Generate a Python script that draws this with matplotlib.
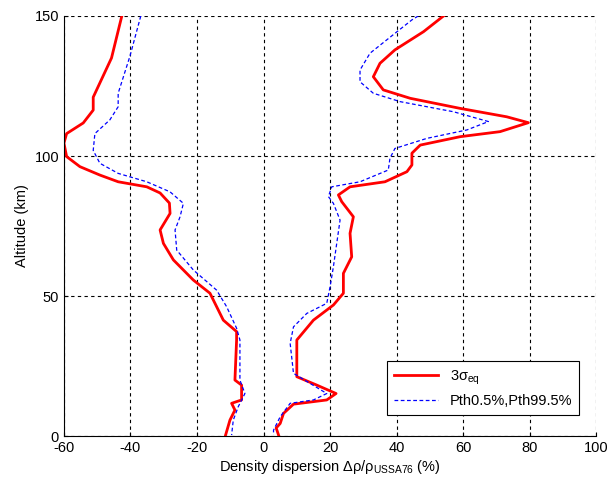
import numpy as np
import matplotlib
matplotlib.use("Agg")
from matplotlib import pyplot as plt

plt.rcParams['font.family'] = ['Liberation Sans', 'DejaVu Sans']
plt.rcParams['mathtext.fontset'] = 'custom'
plt.rcParams['mathtext.rm'] = 'Liberation Sans'
plt.rcParams['mathtext.it'] = 'Liberation Sans'
plt.rcParams['axes.unicode_minus'] = False

# --- data (dispersion %, altitude km) ---
red_left_alt = [150, 135, 121, 116.4, 111.8, 108, 104.6, 99.8, 96.2, 93.2, 90.8, 89, 86.8, 83.2,
                79.5, 73.6, 68.8, 62.9, 55.7, 51, 46.2, 41.4, 37.3, 34.3, 20, 18.2, 12.9, 11.7,
                9.3, 5.7, 0.4]
red_left_x = [-42.6, -45.7, -51.2, -51.2, -54.2, -59.2, -60, -59.2, -55.2, -49.2, -43.7, -35.1,
              -31.1, -28.3, -28.1, -31.1, -30.1, -27.1, -21.1, -16.1, -14.1, -12.1, -8.1, -8.1,
              -8.6, -6.6, -6.6, -9.6, -8.6, -10.1, -11.4]

blue_left_alt = [150, 135.5, 122.4, 117.6, 112.9, 108, 102, 97.4, 93.8, 90.8, 87.2, 83.1, 78.3,
                 73.6, 66.4, 59.3, 52.1, 46.2, 38.5, 34.3, 20, 15.2, 10.5, 5.7, 0.4]
blue_left_x = [-36.9, -40.2, -43.7, -43.7, -46.2, -50.7, -51.2, -49.2, -43.7, -35.1, -28.1, -24.1,
               -25.1, -26.6, -26.1, -21.1, -14.1, -11.1, -8.1, -7.1, -7.1, -5.6, -7.6, -9.1, -9.6]

red_right_alt = [150, 144.4, 137.9, 133.1, 128.3, 123.6, 120.6, 117, 114, 111.9, 108.7, 106.9,
                 103.9, 101, 96.8, 94.4, 90.8, 89, 86.1, 83.7, 78.3, 72.4, 64, 58.1, 51, 46.8,
                 41.4, 34.3, 21.2, 18.2, 15.2, 12.9, 11.4, 8.1, 4.5, 2.9, 0.4]
red_right_x = [54.1, 48.1, 39.5, 35.0, 33.0, 36.0, 44.1, 59.1, 73.1, 79.6, 71.1, 59.1, 47.1, 44.6,
               44.6, 43.1, 36.5, 26.0, 22.5, 23.5, 27.0, 26.0, 26.5, 24.0, 24.0, 21.0, 15.0, 10.0,
               10.0, 16.0, 21.8, 19.0, 9.0, 6.0, 5.0, 3.8, 4.5]

blue_right_alt = [150, 148.6, 143.8, 136.7, 130.7, 126.5, 122.4, 119.4, 115.8, 112.3, 109.3, 106.3,
                  102.7, 99.2, 95, 90.8, 89, 85.5, 83.1, 77.1, 68.8, 60.5, 53.3, 47.4, 43.8, 39,
                  33.1, 22.4, 18.8, 15.2, 12.9, 11.7, 6.9, 2.1, 0.4]
blue_right_x = [46.5, 44.6, 39.5, 32.0, 29.0, 29.0, 33.0, 41.1, 57.1, 67.6, 61.1, 49.1, 39.5, 38.0,
                37.5, 29.0, 20.5, 19.5, 21.0, 23.0, 22.0, 21.0, 20.0, 19.0, 13.0, 9.0, 8.0, 9.0,
                14.0, 19.0, 15.0, 8.0, 5.0, 3.0, 3.0]

xticks = [-60, -40, -20, 0, 20, 40, 60, 80, 100]
yticks = [0, 50, 100, 150]

fig = plt.figure(figsize=(6.09, 4.84), dpi=100)
ax = fig.add_axes([0.105, 0.099, 0.874, 0.868])

ax.plot(red_left_x, red_left_alt, color='red', lw=2, label=r'3$\sigma_{\mathrm{eq}}$')
ax.plot(blue_left_x, blue_left_alt, color='blue', lw=0.9, ls=(0, (3, 2)),
        label='Pth0.5%,Pth99.5%')
ax.plot(red_right_x, red_right_alt, color='red', lw=2)
ax.plot(blue_right_x, blue_right_alt, color='blue', lw=0.9, ls=(0, (3, 2)))

ax.set_xlim(-60, 100)
ax.set_ylim(0, 150)
ax.set_xticks(xticks)
ax.set_yticks(yticks)
ax.grid(True, color='black', ls=(0, (3, 3)), lw=0.8)
ax.spines['top'].set_visible(False)
ax.spines['right'].set_visible(False)
ax.tick_params(direction='in', length=3, labelsize=10.5, colors='black')

ax.set_xlabel(r'Density dispersion Δρ/ρ$_{\mathrm{USSA76}}$ (%)', fontsize=10.5, labelpad=2)
ax.set_ylabel('Altitude (km)', fontsize=10.5)

leg = ax.legend(loc='lower right', bbox_to_anchor=(0.982, 0.032), fontsize=10.5,
                fancybox=False, framealpha=1, edgecolor='black', handlelength=3.0,
                borderpad=0.5)
leg.get_frame().set_linewidth(0.8)

fig.savefig('out.png', dpi=100)
